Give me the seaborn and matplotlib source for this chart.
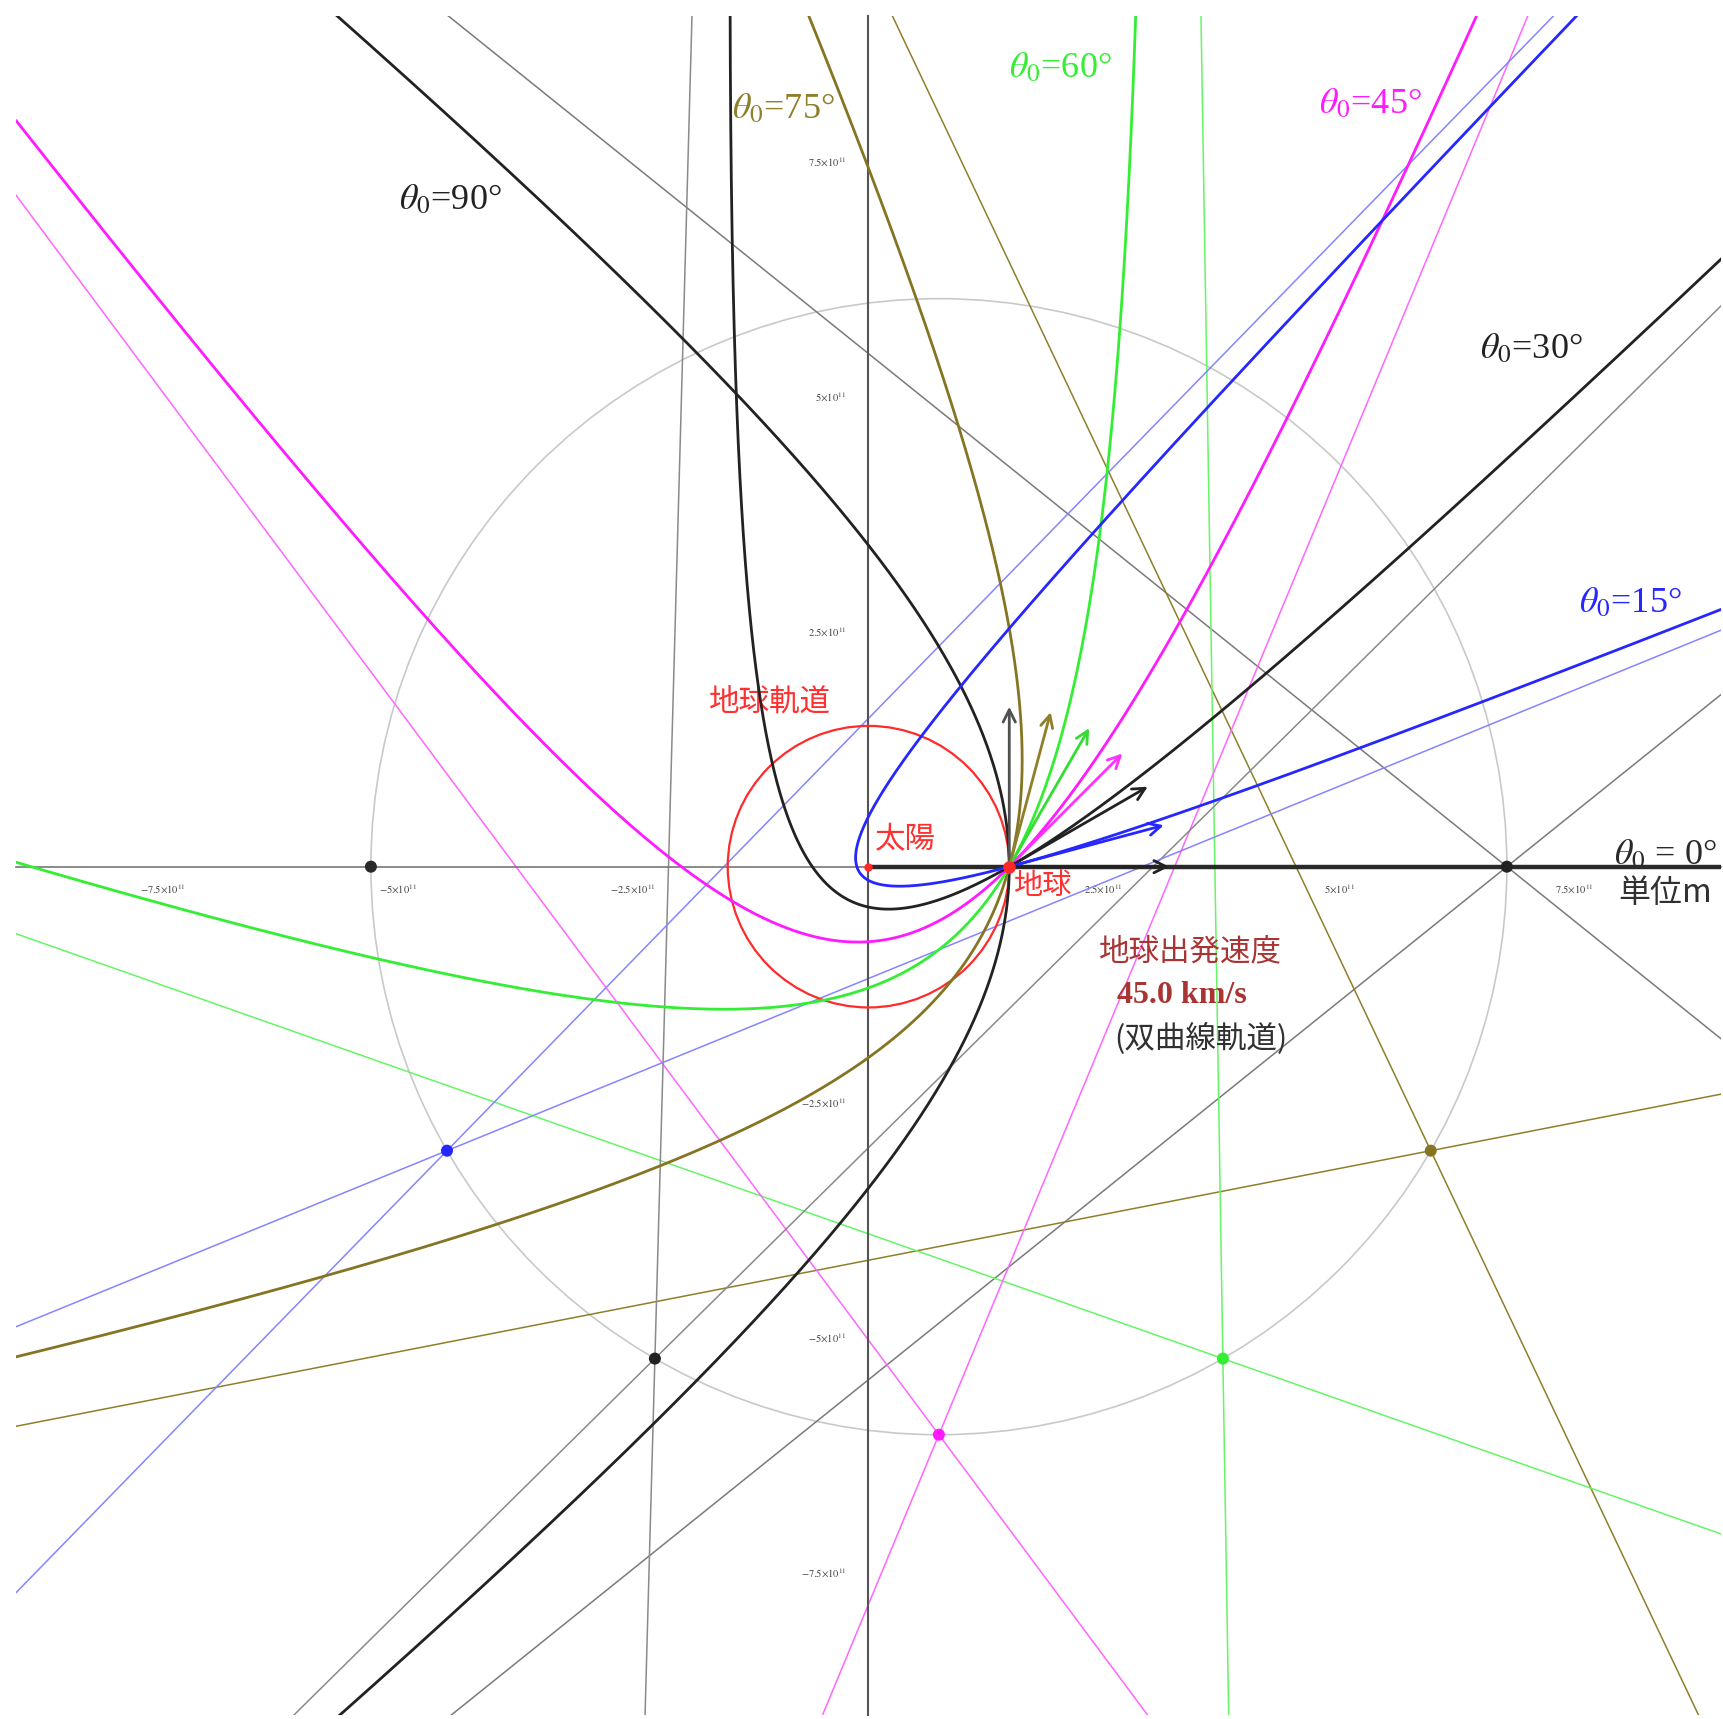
import numpy as np
import matplotlib
matplotlib.use("Agg")
import matplotlib.pyplot as plt
import seaborn as sns
from matplotlib.ticker import FixedLocator, FixedFormatter, MultipleLocator
from matplotlib.patches import Circle

# ---------------- data ----------------
THETA0_DEG = [90, 75, 60, 45, 30, 15, 0]          # launch angle from the Sun-Earth line
SPEED_KMS = 45.0                                    # heliocentric departure speed
EARTH_ORBIT_M = 1.496e11                            # radius of Earth's orbit
GM_SUN = 1.327e20
ARROW_LEN_M = 1.7e11
TICK_VALUES = [-7.5e11, -5e11, -2.5e11, 2.5e11, 5e11, 7.5e11]
TICK_LABELS = [r"$-7.5{\times}10^{11}$", r"$-5{\times}10^{11}$", r"$-2.5{\times}10^{11}$",
               r"$2.5{\times}10^{11}$", r"$5{\times}10^{11}$", r"$7.5{\times}10^{11}$"]
ANGLE_LABELS = [r"$\theta_0$=90°", r"$\theta_0$=75°", r"$\theta_0$=60°", r"$\theta_0$=45°",
                r"$\theta_0$=30°", r"$\theta_0$=15°", r"$\theta_0$ = 0°"]

# ---------------- styles ----------------
CURVE_COLORS = ["#222222", "#857523", "#33ee33", "#ff1aff", "#222222", "#2626ff", "#2a2a2a"]
ASYM_COLORS = ["#7a7a7a", "#8f7f2a", "#66f566", "#ff66ff", "#8a8a8a", "#8585ff", "#2a2a2a"]
ARROW_COLORS = ["#505050", "#8f7f2a", "#33dd33", "#ff33ff", "#222222", "#2626ff", "#222222"]
LABEL_POS = [(-4.44e11, 7.08e11), (-0.91e11, 8.04e11), (2.04e11, 8.48e11), (5.33e11, 8.10e11),
             (7.04e11, 5.49e11), (8.10e11, 2.80e11), (8.47e11, 0.12e11)]

sns.set_theme(style="white")
plt.rcParams["font.family"] = ["Liberation Serif", "Noto Sans CJK JP", "DejaVu Sans"]
plt.rcParams["mathtext.fontset"] = "stix"

fig = plt.figure(figsize=(17.24, 17.19), dpi=100)
fig.patch.set_facecolor("white")
ax = fig.add_axes([16 / 1724, 4 / 1719, 1705 / 1724, 1699 / 1719])
ax.set_facecolor("white")
ax.set_xlim(-9.06e11, 9.06e11)
ax.set_ylim(-9.015e11, 9.04e11)

# axes through origin
ax.spines["left"].set_position("zero")
ax.spines["bottom"].set_position("zero")
ax.spines["top"].set_visible(False)
ax.spines["right"].set_visible(False)
ax.spines["left"].set_color("#555555")
ax.spines["left"].set_linewidth(1.5)
ax.spines["bottom"].set_color("#777777")
ax.spines["bottom"].set_linewidth(1.2)
for axis in (ax.xaxis, ax.yaxis):
    axis.set_major_locator(FixedLocator(TICK_VALUES))
    axis.set_major_formatter(FixedFormatter(TICK_LABELS))
    axis.set_minor_locator(MultipleLocator(0.5e11))
ax.tick_params(which="major", direction="in", length=7, width=1.0, color="#444444",
               labelsize=7.5, labelcolor="#444444")
ax.tick_params(which="minor", direction="in", length=3.5, width=0.9, color="#444444")
ax.tick_params(axis="x", which="major", pad=12)
ax.tick_params(axis="y", which="major", pad=16)
ax.set_xlabel("")
ax.set_ylabel("")
ax.grid(False)

v = SPEED_KMS * 1e3
r0 = EARTH_ORBIT_M
a_semi = GM_SUN / (v ** 2 - 2 * GM_SUN / r0)
L = 5e12

# circle of hyperbola centres and Earth's orbit
ax.add_patch(Circle((r0 / 2, 0), (r0 + 2 * a_semi) / 2, fill=False, ec="#c9c9c9", lw=1.2, zorder=1))
ax.add_patch(Circle((0, 0), r0, fill=False, ec="#ff2a2a", lw=1.6, zorder=4))

centers = []
for i, th_deg in enumerate(THETA0_DEG):
    th = np.radians(th_deg)
    vx, vy = v * np.cos(th), v * np.sin(th)
    h = r0 * vy
    ex = vy * h / GM_SUN - 1.0
    ey = -vx * h / GM_SUN
    e = np.hypot(ex, ey)
    omega = np.arctan2(ey, ex)
    cx, cy = a_semi * ex, a_semi * ey
    centers.append((cx, cy))
    if th_deg == 0:
        sns.lineplot(x=[0.0, 2e12], y=[0.0, 0.0], color=CURVE_COLORS[i], lw=3.2,
                     sort=False, estimator=None, ax=ax, zorder=3)
        continue
    nu_inf = np.arccos(-1.0 / e)
    # asymptotes
    for d in (omega + nu_inf, omega - nu_inf):
        t = np.array([-L, L])
        sns.lineplot(x=cx + t * np.cos(d), y=cy + t * np.sin(d), color=ASYM_COLORS[i],
                     lw=1.1, sort=False, estimator=None, ax=ax, zorder=2)
    # hyperbola branch
    p = h ** 2 / GM_SUN
    nu = np.linspace(-nu_inf, nu_inf, 40001)[1:-1]
    r = p / (1 + e * np.cos(nu))
    keep = r < 4e12
    xs = r[keep] * np.cos(omega + nu[keep])
    ys = r[keep] * np.sin(omega + nu[keep])
    sns.lineplot(x=xs, y=ys, color=CURVE_COLORS[i], lw=2.0, sort=False, estimator=None,
                 ax=ax, zorder=5)

# velocity arrows at Earth
for i, th_deg in enumerate(THETA0_DEG):
    th = np.radians(th_deg)
    ax.annotate("", xy=(r0 + ARROW_LEN_M * np.cos(th), ARROW_LEN_M * np.sin(th)), xytext=(r0, 0),
                arrowprops=dict(arrowstyle="->", color=ARROW_COLORS[i], lw=2.0,
                                mutation_scale=22, shrinkA=0, shrinkB=0), zorder=6)

# centres of hyperbolas
sns.scatterplot(x=[c[0] for c in centers], y=[c[1] for c in centers], hue=list(range(len(centers))),
                palette=CURVE_COLORS, s=75, edgecolor="none", legend=False, ax=ax, zorder=7)

# Sun and Earth
ax.plot([0], [0], "o", color="#ff2a2a", ms=5, zorder=8)
ax.plot([r0], [0], "o", color="#ff2a2a", ms=8, zorder=8)

# labels
for i, lab in enumerate(ANGLE_LABELS):
    ax.text(LABEL_POS[i][0], LABEL_POS[i][1], lab, color=CURVE_COLORS[i] if i != 1 else "#8f7f2a",
            fontsize=26, ha="center", va="center", family=["Liberation Serif"], zorder=9)

cjk = ["Noto Sans CJK JP", "DejaVu Sans"]
ax.text(8.47e11, -0.28e11, "単位m", fontsize=23, color="#303030", ha="center", va="center", family=cjk)
ax.text(-1.05e11, 1.75e11, "地球軌道", fontsize=22, color="#ff3030", ha="center", va="center", family=cjk)
ax.text(0.39e11, 0.30e11, "太陽", fontsize=22, color="#ff3030", ha="center", va="center", family=cjk, zorder=9)
ax.text(1.85e11, -0.20e11, "地球", fontsize=21, color="#ff3030", ha="center", va="center", family=cjk, zorder=9)
ax.text(3.42e11, -0.90e11, "地球出発速度", fontsize=22, color="#a83434", ha="center", va="center", family=cjk)
ax.text(3.33e11, -1.37e11, "45.0 km/s", fontsize=23, color="#a83434", ha="center", va="center",
        family=["Liberation Serif"], fontweight="bold")
ax.text(3.53e11, -1.83e11, "(双曲線軌道)", fontsize=22, color="#303030", ha="center", va="center", family=cjk)

fig.savefig("out.png", dpi=100, facecolor="white")
